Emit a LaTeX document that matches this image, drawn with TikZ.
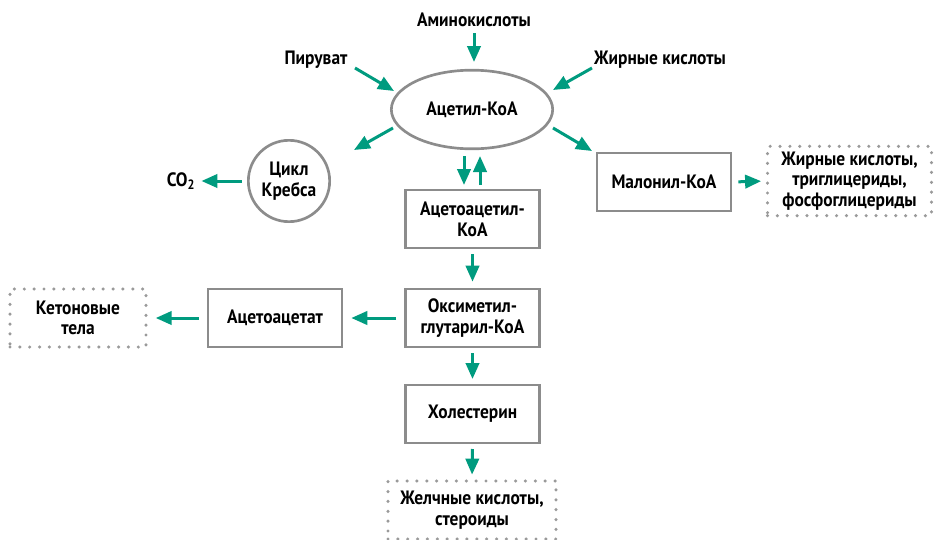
\documentclass[tikz,border=0pt]{standalone}
\usepackage{fontspec}
\setmainfont[FakeStretch=0.9]{PT Sans}
\usetikzlibrary{arrows.meta,shapes.geometric}
\definecolor{teal}{HTML}{009B7F}
\definecolor{frame}{HTML}{8C8C8C}
\definecolor{dots}{HTML}{9A9A9A}
\begin{document}
\begin{tikzpicture}[x=0.75pt,y=-0.75pt,
  every node/.style={font=\bfseries\fontsize{14.5}{15.5}\selectfont, align=center, inner sep=0pt},
  stepbox/.style={draw=frame, line width=2pt, minimum width=100.5pt, minimum height=43.5pt},
  endbox/.style={draw=dots, line width=2.6pt, line cap=round, dash pattern=on 0pt off 7.4pt},
  arr/.style={draw=teal, line width=2.25pt, -{Triangle[length=12pt,width=10pt]}}]
\useasboundingbox (0,0) rectangle (935,539);

% central hub
\node[ellipse, draw=frame, line width=2pt, minimum width=121pt, minimum height=59pt] (ac) at (472,109.5) {Ацетил-КоА};
\node[circle, draw=frame, line width=2pt, minimum size=61pt] (krebs) at (289,181) {Цикл\\Кребса};

% sources
\node (amino) at (474,20) {Аминокислоты};
\node (pyr) at (316,60) {Пируват};
\node (fa) at (660,60) {Жирные кислоты};
\node (co2) at (181,181) {CO\textsubscript{2}};

% pathway boxes
\node[stepbox] (aca) at (472.5,219) {Ацетоацетил-\\КоА};
\node[stepbox] (mal) at (664,182) {Малонил-КоА};
\node[stepbox] (hmg) at (472.5,318) {Оксиметил-\\глутарил-КоА};
\node[stepbox] (acet) at (275,318) {Ацетоацетат};
\node[stepbox] (chol) at (472.5,414) {Холестерин};

% end products
\node[endbox, minimum width=123pt, minimum height=52pt] (lip) at (849.5,181) {Жирные кислоты,\\триглицериды,\\фосфоглицериды};
\node[endbox, minimum width=102pt, minimum height=43.5pt] (ket) at (78,318) {Кетоновые\\тела};
\node[endbox, minimum width=126pt, minimum height=43.5pt] (bile) at (472,510) {Желчные кислоты,\\стероиды};

% arrow end points around the hub
\coordinate (amA) at (474,33);
\coordinate (amB) at (474,62);
\coordinate (pyrA) at (355,68);
\coordinate (pyrB) at (394,91);
\coordinate (faA) at (592,68);
\coordinate (faB) at (553,90);
\coordinate (krA) at (393,128);
\coordinate (krB) at (354,150);
\coordinate (maA) at (553,128);
\coordinate (maB) at (592,151);
\coordinate (dnA) at (464,156);
\coordinate (dnB) at (464,185);
\coordinate (upA) at (480,185);
\coordinate (upB) at (480,156);

\draw[arr] (amA) -- (amB);
\draw[arr] (pyrA) -- (pyrB);
\draw[arr] (faA) -- (faB);
\draw[arr] (krA) -- (krB);
\draw[arr] (maA) -- (maB);
\draw[arr] (dnA) -- (dnB);
\draw[arr] (upA) -- (upB);

\draw[arr, shorten <=4pt, shorten >=4.5pt] (krebs.west) -- (co2.east);
\draw[arr, shorten <=4.5pt, shorten >=3.5pt] (mal.east) -- (lip.west);
\draw[arr, shorten <=3.5pt, shorten >=4.5pt] (aca.south) -- (hmg.north);
\draw[arr, shorten <=6pt, shorten >=6pt] (hmg.west) -- (acet.east);
\draw[arr, shorten <=6pt, shorten >=6pt] (acet.west) -- (ket.east);
\draw[arr, shorten <=3.5pt, shorten >=3.5pt] (hmg.south) -- (chol.north);
\draw[arr, shorten <=3.5pt, shorten >=3.5pt] (chol.south) -- (bile.north);
\end{tikzpicture}
\end{document}
